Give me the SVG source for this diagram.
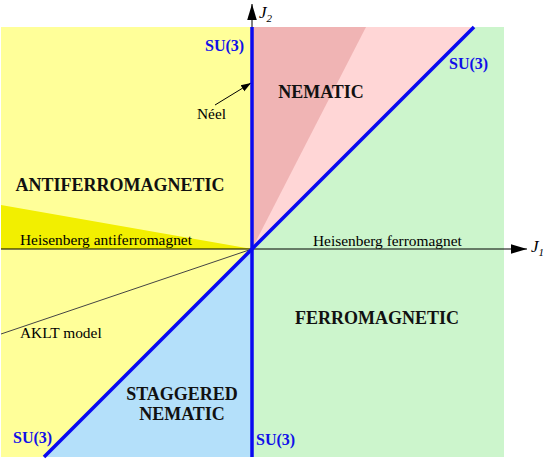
<svg xmlns="http://www.w3.org/2000/svg" width="545" height="460" viewBox="0 0 545 460">
<defs>
<style>
.lbl{font-family:"Liberation Serif","Times New Roman",serif;font-size:15.4px;fill:#000}
.big{font-family:"Liberation Serif","Times New Roman",serif;font-size:18px;font-weight:bold;fill:#111}
.su{font-family:"Liberation Serif","Times New Roman",serif;font-size:16px;font-weight:bold;fill:#1010e8}
.ax{font-family:"Liberation Serif","Times New Roman",serif;font-style:italic;font-size:17px;fill:#000}
.sub{font-size:11px}
.bl{stroke:#0a0af0;stroke-width:3.5;fill:none}
</style>
<marker id="ah" viewBox="0 0 10 10" refX="10" refY="5" markerWidth="10" markerHeight="10" markerUnits="userSpaceOnUse" orient="auto"><path d="M0,1.5 L10,5 L0,8.5 Z" fill="#000"/></marker>
<marker id="ah2" viewBox="0 0 10 10" refX="10" refY="5" markerWidth="16" markerHeight="16" markerUnits="userSpaceOnUse" orient="auto"><path d="M0,2 L10,5 L0,8 Z" fill="#000"/></marker>
</defs>
<g id="regions">
<polygon id="afm" points="1,27 252,27 252,249 44,457 1,457" fill="#ffff99"/>
<polygon id="afm-wedge" points="1,205 252,249 1,249" fill="#f2ef00"/>
<polygon id="nematic-light" points="252,27 474,27 252,249" fill="#ffd6d6"/>
<polygon id="nematic-dark" points="252,27 366,27 252,249" fill="#f0b4b4"/>
<polygon id="ferro" points="474,27 504,27 504,457 252,457 252,249" fill="#ccf5cc"/>
<polygon id="stag" points="252,249 252,457 44,457" fill="#b4e0fa"/>
</g>
<g id="connectors">
<line x1="1" y1="249" x2="527" y2="249" stroke="#000" stroke-width="1" marker-end="url(#ah2)"/>
<line x1="252" y1="457" x2="252" y2="4" stroke="#000" stroke-width="1" marker-end="url(#ah2)"/>
<line x1="252" y1="249" x2="1" y2="334" stroke="#444" stroke-width="1"/>
<line x1="215" y1="105" x2="251" y2="83" stroke="#000" stroke-width="1" marker-end="url(#ah)"/>
<line class="bl" x1="252" y1="27" x2="252" y2="457"/>
<line class="bl" x1="474" y1="27" x2="44" y2="457"/>
</g>
<g id="labels">
<text class="ax" x="259" y="18">J<tspan class="sub" dy="4">2</tspan></text>
<text class="ax" x="531" y="252">J<tspan class="sub" dy="4">1</tspan></text>
<text class="su" x="205" y="51">SU(3)</text>
<text class="su" x="449" y="69">SU(3)</text>
<text class="su" x="13" y="443">SU(3)</text>
<text class="su" x="256" y="445">SU(3)</text>
<text class="big" x="321" y="98" text-anchor="middle">NEMATIC</text>
<text class="big" x="120" y="191" text-anchor="middle">ANTIFERROMAGNETIC</text>
<text class="big" x="377" y="324" text-anchor="middle">FERROMAGNETIC</text>
<text class="big" x="182" y="400" text-anchor="middle">STAGGERED</text>
<text class="big" x="182" y="420" text-anchor="middle">NEMATIC</text>
<text class="lbl" x="20" y="245">Heisenberg antiferromagnet</text>
<text class="lbl" x="313" y="246">Heisenberg ferromagnet</text>
<text class="lbl" x="20" y="338" font-size="11.5">AKLT model</text>
<text class="lbl" x="197" y="119">Néel</text>
</g>
</svg>
